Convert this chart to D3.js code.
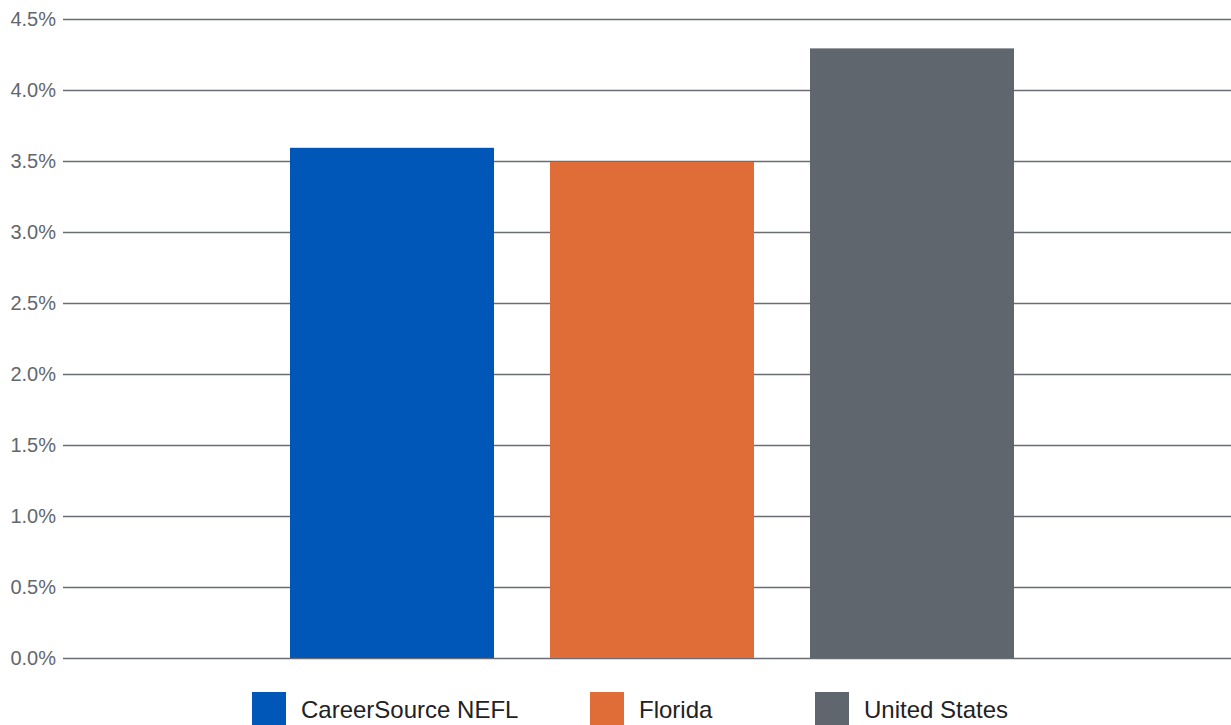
<!DOCTYPE html>
<html>
<head>
<meta charset="utf-8">
<script src="https://cdn.jsdelivr.net/npm/d3@7"></script>
<style>
  html, body { margin: 0; padding: 0; background: #fff; }
  svg { display: block; font-family: "Liberation Sans", Arial, sans-serif; }
</style>
</head>
<body>
<svg id="chart" width="1231" height="725"></svg>
<script>
var categories = ['CareerSource NEFL', 'Florida', 'United States'];
var values = [3.6, 3.5, 4.3];
var colors = ['#0057b7', '#e06c37', '#5f666e'];
var yTicks = [0, 0.5, 1.0, 1.5, 2.0, 2.5, 3.0, 3.5, 4.0, 4.5];

var svg = d3.select('#chart');

var yScale = d3.scaleLinear()
	.domain([0, 4.5])
	.range([658, 19]);

var xScale = d3.scaleBand()
	.domain(categories)
	.range([262, 1042])
	.paddingInner(0.2154)
	.paddingOuter(0.1077);

// gridlines (drawn first, bars sit on top)
var yAxis = d3.axisLeft(yScale)
	.tickValues(yTicks)
	.tickSize(-1168)
	.tickPadding(7)
	.tickFormat(function(d) { return d.toFixed(1) + '%'; });

var g = svg.append('g')
	.attr('transform', 'translate(63,0)')
	.call(yAxis);

g.select('.domain').remove();
g.selectAll('.tick line')
	.attr('stroke', '#6a6e74')
	.attr('stroke-width', 1.5);
g.selectAll('.tick text')
	.attr('fill', '#62676d')
	.style('font-size', '20px')
	.style('font-family', '"Liberation Sans", Arial, sans-serif');

// bars
svg.selectAll('rect.bar')
	.data(values)
	.enter()
	.append('rect')
	.attr('class', 'bar')
	.attr('x', function(d, i) { return xScale(categories[i]); })
	.attr('y', function(d) { return yScale(d) + 1; })
	.attr('width', xScale.bandwidth())
	.attr('height', function(d) { return yScale(0) - yScale(d) - 1; })
	.attr('fill', function(d, i) { return colors[i]; });

// legend
var legendX = [252, 590, 815];
var legend = svg.selectAll('g.legend')
	.data(categories)
	.enter()
	.append('g')
	.attr('class', 'legend')
	.attr('transform', function(d, i) { return 'translate(' + legendX[i] + ',692)'; });

legend.append('rect')
	.attr('width', 34)
	.attr('height', 33)
	.attr('fill', function(d, i) { return colors[i]; });

legend.append('text')
	.attr('x', 49)
	.attr('y', 26)
	.attr('fill', '#222')
	.style('font-size', '24px')
	.text(function(d) { return d; });
</script>
</body>
</html>
